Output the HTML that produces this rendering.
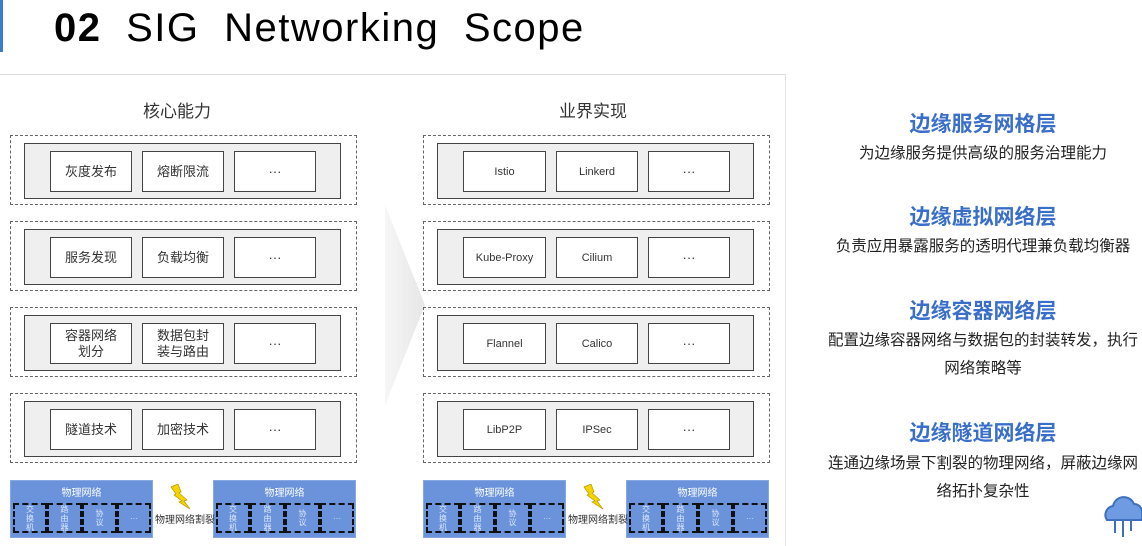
<!DOCTYPE html>
<html><head><meta charset="utf-8"><style>
body{margin:0;width:1142px;height:546px;background:#fff;position:relative;overflow:hidden;font-family:"Liberation Sans","Noto Sans CJK SC",sans-serif;color:#222}
.a{position:absolute;box-sizing:border-box}
.od{border:1px dashed #666}
.in{background:#efefef;border:1.5px solid #444}
.bx{background:#fff;border:1.5px solid #444;display:flex;align-items:center;justify-content:center;text-align:center;font-size:13px;line-height:16px;color:#333}
.en{font-size:11px}
.blue{background:#6a93dc;border:1px solid #88a8e4}
.bl{color:#fff;font-size:10px;text-align:center;width:100%;top:3px}
.cell{border:2px dashed #111;color:#dde6f8;font-size:8px;line-height:9px;display:flex;align-items:center;justify-content:center;text-align:center}
.t{color:#3a6fc9;font-weight:bold;font-size:21px;text-align:center;width:340px;left:813px}
.d{font-size:15.5px;text-align:center;width:340px;left:813px;line-height:28px;color:#222}
</style></head><body>
<div class="a" style="left:0;top:0;width:3px;height:52px;background:#3b7bd0"></div>
<div class="a" style="left:54px;top:6px;font-size:40px;color:#000;letter-spacing:1.5px;word-spacing:12px"><b>02</b> SIG Networking Scope</div>
<div class="a" style="left:0;top:74px;width:786px;height:1px;background:#ddd"></div>
<div class="a" style="left:785px;top:74px;width:1px;height:472px;background:#e4e4e4"></div>
<div class="a" style="left:143px;top:97px;font-size:17px;color:#333">核心能力</div>
<div class="a" style="left:559px;top:97px;font-size:17px;color:#333">业界实现</div>
<svg class="a" style="left:380px;top:205px" width="50" height="200"><defs><linearGradient id="g" x1="0" x2="1"><stop offset="0" stop-color="#f6f6f6"/><stop offset="1" stop-color="#e6e6e6"/></linearGradient></defs><polygon points="5,0 45,100 5,200 5,0" fill="url(#g)"/></svg>
<div class="a od" style="left:10px;top:135px;width:347px;height:70px"></div>
<div class="a in" style="left:24px;top:143px;width:317px;height:56px"></div>
<div class="a bx" style="left:50px;top:151px;width:82px;height:41px">灰度发布</div>
<div class="a bx" style="left:142px;top:151px;width:82px;height:41px">熔断限流</div>
<div class="a bx" style="left:234px;top:151px;width:82px;height:41px">···</div>
<div class="a od" style="left:10px;top:221px;width:347px;height:70px"></div>
<div class="a in" style="left:24px;top:229px;width:317px;height:56px"></div>
<div class="a bx" style="left:50px;top:237px;width:82px;height:41px">服务发现</div>
<div class="a bx" style="left:142px;top:237px;width:82px;height:41px">负载均衡</div>
<div class="a bx" style="left:234px;top:237px;width:82px;height:41px">···</div>
<div class="a od" style="left:10px;top:307px;width:347px;height:70px"></div>
<div class="a in" style="left:24px;top:315px;width:317px;height:56px"></div>
<div class="a bx" style="left:50px;top:323px;width:82px;height:41px">容器网络<br>划分</div>
<div class="a bx" style="left:142px;top:323px;width:82px;height:41px">数据包封<br>装与路由</div>
<div class="a bx" style="left:234px;top:323px;width:82px;height:41px">···</div>
<div class="a od" style="left:10px;top:393px;width:347px;height:70px"></div>
<div class="a in" style="left:24px;top:401px;width:317px;height:56px"></div>
<div class="a bx" style="left:50px;top:409px;width:82px;height:41px">隧道技术</div>
<div class="a bx" style="left:142px;top:409px;width:82px;height:41px">加密技术</div>
<div class="a bx" style="left:234px;top:409px;width:82px;height:41px">···</div>
<div class="a od" style="left:423px;top:135px;width:347px;height:70px"></div>
<div class="a in" style="left:437px;top:143px;width:317px;height:56px"></div>
<div class="a bx en" style="left:463px;top:151px;width:83px;height:41px">Istio</div>
<div class="a bx en" style="left:556px;top:151px;width:82px;height:41px">Linkerd</div>
<div class="a bx" style="left:648px;top:151px;width:82px;height:41px">···</div>
<div class="a od" style="left:423px;top:221px;width:347px;height:70px"></div>
<div class="a in" style="left:437px;top:229px;width:317px;height:56px"></div>
<div class="a bx en" style="left:463px;top:237px;width:83px;height:41px">Kube-Proxy</div>
<div class="a bx en" style="left:556px;top:237px;width:82px;height:41px">Cilium</div>
<div class="a bx" style="left:648px;top:237px;width:82px;height:41px">···</div>
<div class="a od" style="left:423px;top:307px;width:347px;height:70px"></div>
<div class="a in" style="left:437px;top:315px;width:317px;height:56px"></div>
<div class="a bx en" style="left:463px;top:323px;width:83px;height:41px">Flannel</div>
<div class="a bx en" style="left:556px;top:323px;width:82px;height:41px">Calico</div>
<div class="a bx" style="left:648px;top:323px;width:82px;height:41px">···</div>
<div class="a od" style="left:423px;top:393px;width:347px;height:70px"></div>
<div class="a in" style="left:437px;top:401px;width:317px;height:56px"></div>
<div class="a bx en" style="left:463px;top:409px;width:83px;height:41px">LibP2P</div>
<div class="a bx en" style="left:556px;top:409px;width:82px;height:41px">IPSec</div>
<div class="a bx" style="left:648px;top:409px;width:82px;height:41px">···</div>
<div class="a blue" style="left:10px;top:480px;width:143px;height:58px"><div class="a bl">物理网络</div>
<div class="a cell" style="left:2px;top:22px;width:34px;height:30px">交<br>换<br>机</div><div class="a cell" style="left:36px;top:22px;width:35px;height:30px">路<br>由<br>器</div><div class="a cell" style="left:71px;top:22px;width:35px;height:30px">协<br>议</div><div class="a cell" style="left:106px;top:22px;width:34px;height:30px">···</div></div>
<div class="a blue" style="left:213px;top:480px;width:143px;height:58px"><div class="a bl">物理网络</div>
<div class="a cell" style="left:2px;top:22px;width:34px;height:30px">交<br>换<br>机</div><div class="a cell" style="left:36px;top:22px;width:35px;height:30px">路<br>由<br>器</div><div class="a cell" style="left:71px;top:22px;width:35px;height:30px">协<br>议</div><div class="a cell" style="left:106px;top:22px;width:34px;height:30px">···</div></div>
<div class="a blue" style="left:423px;top:480px;width:143px;height:58px"><div class="a bl">物理网络</div>
<div class="a cell" style="left:2px;top:22px;width:34px;height:30px">交<br>换<br>机</div><div class="a cell" style="left:36px;top:22px;width:35px;height:30px">路<br>由<br>器</div><div class="a cell" style="left:71px;top:22px;width:35px;height:30px">协<br>议</div><div class="a cell" style="left:106px;top:22px;width:34px;height:30px">···</div></div>
<div class="a blue" style="left:626px;top:480px;width:143px;height:58px"><div class="a bl">物理网络</div>
<div class="a cell" style="left:2px;top:22px;width:34px;height:30px">交<br>换<br>机</div><div class="a cell" style="left:36px;top:22px;width:35px;height:30px">路<br>由<br>器</div><div class="a cell" style="left:71px;top:22px;width:35px;height:30px">协<br>议</div><div class="a cell" style="left:106px;top:22px;width:34px;height:30px">···</div></div>
<svg class="a" style="left:168px;top:484px" width="24" height="26"><polygon points="3,3 10,0 13,8 11,9 19,16 16,17 22,25 11,18 14,17 6,11 8,10" fill="#f5d400" stroke="#b89a00" stroke-width="0.7"/></svg>
<svg class="a" style="left:581px;top:484px" width="24" height="26"><polygon points="3,3 10,0 13,8 11,9 19,16 16,17 22,25 11,18 14,17 6,11 8,10" fill="#f5d400" stroke="#b89a00" stroke-width="0.7"/></svg>
<div class="a" style="left:155px;top:511px;font-size:10px;color:#333">物理网络割裂</div>
<div class="a" style="left:568px;top:511px;font-size:10px;color:#333">物理网络割裂</div>
<div class="a t" style="top:108px">边缘服务网格层</div>
<div class="a d" style="top:140px">为边缘服务提供高级的服务治理能力</div>
<div class="a t" style="top:201px">边缘虚拟网络层</div>
<div class="a d" style="top:233px">负责应用暴露服务的透明代理兼负载均衡器</div>
<div class="a t" style="top:295px">边缘容器网络层</div>
<div class="a d" style="top:327px">配置边缘容器网络与数据包的封装转发，执行<br>网络策略等</div>
<div class="a t" style="top:417px">边缘隧道网络层</div>
<div class="a d" style="top:450px">连通边缘场景下割裂的物理网络，屏蔽边缘网<br>络拓扑复杂性</div>
<svg class="a" style="left:1095px;top:490px" width="47" height="56"><path d="M12,30 a9,9 0 0 1 6,-14 a11,11 0 0 1 21,-2 a8,8 0 0 1 8,8 v8 z" fill="#6f9be3" stroke="#3f6fc0" stroke-width="2"/><path d="M20,31 v12 M28,31 v16 M36,31 v10" stroke="#3f6fc0" stroke-width="2"/></svg>
</body></html>
